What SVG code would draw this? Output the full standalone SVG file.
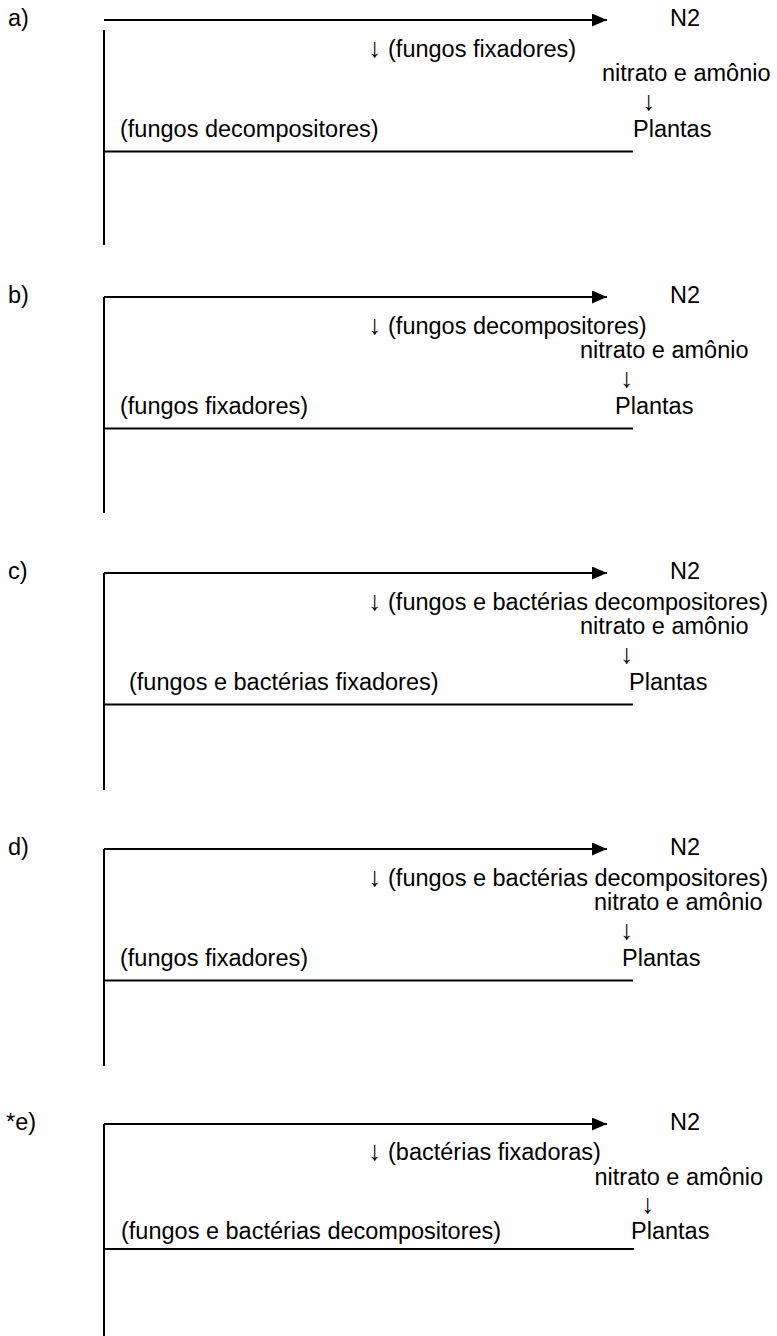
<svg xmlns="http://www.w3.org/2000/svg" width="777" height="1336" viewBox="0 0 777 1336">
<style>
text{font-family:"Liberation Sans",Arial,sans-serif;font-size:23.5px;fill:#000}
.ar{font-size:27px}
.ln{stroke:#000;stroke-width:2;fill:none}
</style>
<defs>
<marker id="ah" markerUnits="userSpaceOnUse" markerWidth="15" markerHeight="13" refX="15" refY="6.5" orient="auto"><path d="M0,0 L15,6.5 L0,13 z" fill="#000"/></marker>
</defs>
<rect width="777" height="1336" fill="#fff"/>
<g id="connectors">
<path class="ln" d="M104,20 H607" marker-end="url(#ah)"/>
<path class="ln" d="M104,30 V245 M104,151.5 H633"/>
<path class="ln" d="M104,297 H607" marker-end="url(#ah)"/>
<path class="ln" d="M104,297 V513 M104,428.5 H633"/>
<path class="ln" d="M104,573 H607" marker-end="url(#ah)"/>
<path class="ln" d="M104,573 V790 M104,704.5 H633"/>
<path class="ln" d="M104,849 H607" marker-end="url(#ah)"/>
<path class="ln" d="M104,849 V1066 M104,980.5 H633"/>
<path class="ln" d="M104,1124 H607" marker-end="url(#ah)"/>
<path class="ln" d="M104,1124 V1336 M104,1249 H634"/>
</g>
<g id="panel-a">
<text x="8" y="25.5">a)</text>
<text id="a-n2" x="670" y="25.5">N2</text>
<text id="a-fix" x="368" y="56.5"><tspan class="ar">↓</tspan> (fungos fixadores)</text>
<text id="a-nitrato" x="602" y="80.5">nitrato e amônio</text>
<text class="ar" x="642" y="109.5">↓</text>
<text id="a-decomp" x="120" y="137">(fungos decompositores)</text>
<text id="a-plantas" x="633" y="137">Plantas</text>
</g>
<g id="panel-b">
<text x="8" y="302.5">b)</text>
<text id="b-n2" x="670" y="302.5">N2</text>
<text id="b-decomp" x="368" y="333.5"><tspan class="ar">↓</tspan> (fungos decompositores)</text>
<text id="b-nitrato" x="580" y="357.5">nitrato e amônio</text>
<text class="ar" x="620" y="386.5">↓</text>
<text id="b-fix" x="120" y="414">(fungos fixadores)</text>
<text id="b-plantas" x="615" y="414">Plantas</text>
</g>
<g id="panel-c">
<text x="8" y="578.5">c)</text>
<text id="c-n2" x="670" y="578.5">N2</text>
<text id="c-decomp" x="368" y="609.5"><tspan class="ar">↓</tspan> (fungos e bactérias decompositores)</text>
<text id="c-nitrato" x="580" y="633.5">nitrato e amônio</text>
<text class="ar" x="620" y="662.5">↓</text>
<text id="c-fix" x="129" y="690">(fungos e bactérias fixadores)</text>
<text id="c-plantas" x="629" y="690">Plantas</text>
</g>
<g id="panel-d">
<text x="8" y="854.5">d)</text>
<text id="d-n2" x="670" y="854.5">N2</text>
<text id="d-decomp" x="368" y="885.5"><tspan class="ar">↓</tspan> (fungos e bactérias decompositores)</text>
<text id="d-nitrato" x="594" y="909.5">nitrato e amônio</text>
<text class="ar" x="620" y="938.5">↓</text>
<text id="d-fix" x="120" y="966">(fungos fixadores)</text>
<text id="d-plantas" x="622" y="966">Plantas</text>
</g>
<g id="panel-e">
<text x="6" y="1129.5">*e)</text>
<text id="e-n2" x="670" y="1129.5">N2</text>
<text id="e-fix" x="368" y="1160"><tspan class="ar">↓</tspan> (bactérias fixadoras)</text>
<text id="e-nitrato" x="594.5" y="1185">nitrato e amônio</text>
<text class="ar" x="641" y="1213">↓</text>
<text id="e-decomp" x="121" y="1239">(fungos e bactérias decompositores)</text>
<text id="e-plantas" x="631" y="1239">Plantas</text>
</g>
</svg>
